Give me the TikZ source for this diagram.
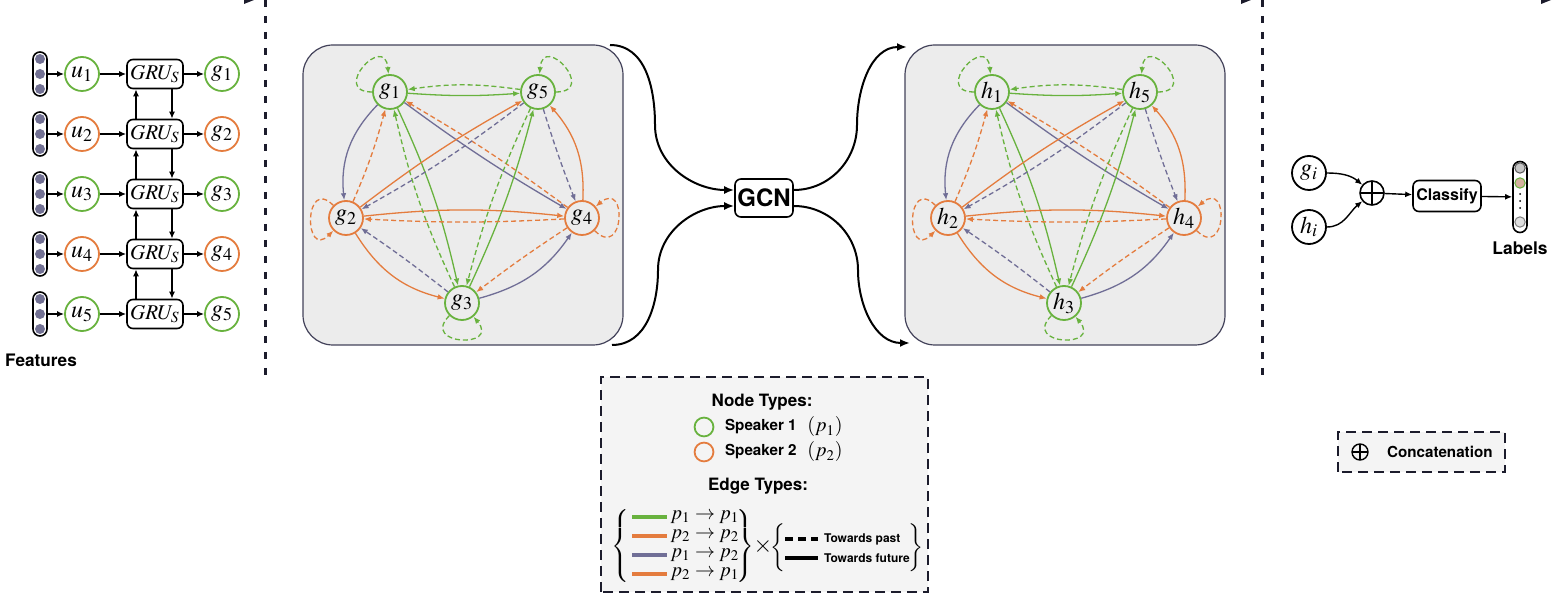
\documentclass[tikz,border=0pt]{standalone}
\usepackage{mathptmx}
\usepackage{fontspec}
\setsansfont{TeX Gyre Heros}
\usetikzlibrary{arrows.meta}
\definecolor{spka}{RGB}{104,178,62}
\definecolor{spkb}{RGB}{228,124,62}
\definecolor{spkx}{RGB}{112,110,150}
\definecolor{panelbg}{RGB}{236,236,236}
\definecolor{legendbg}{RGB}{244,244,244}
\definecolor{sepcol}{RGB}{28,28,44}
\colorlet{featdot}{spkx!85!gray}
\newcommand{\bsf}[1]{\fontsize{#1}{#1}\sffamily\bfseries}
\tikzset{
  spk/.style={circle,draw,line width=0.9pt,minimum size=17pt,inner sep=0pt,
    fill=white,font=\fontsize{12}{14}\selectfont},
  grubox/.style={rounded corners=3pt,draw,line width=0.8pt,fill=white,
    minimum width=28pt,minimum height=14.5pt,inner sep=0pt,
    font=\fontsize{10.5}{12}\selectfont},
  feat/.style={rounded corners=3.5pt,draw,line width=0.8pt,
    minimum width=7pt,minimum height=22pt,inner sep=0pt},
  arr/.style={-{Latex[length=3.5pt,width=3pt]},line width=0.7pt},
  flow/.style={-{Latex[length=5pt,width=4pt]},line width=1pt},
  panel/.style={draw=spkx!60!black,fill=panelbg,line width=0.6pt,rounded corners=15pt},
  gedge/.style={line width=0.65pt,-{Latex[length=3.5pt,width=2.8pt]}},
  future/.style={solid},
  towardpast/.style={dash pattern=on 2.5pt off 1.5pt},
  sepline/.style={sepcol,line width=1.5pt,dash pattern=on 3.5pt off 4.5pt},
  legendbox/.style={draw=sepcol,fill=legendbg,line width=1pt,dash pattern=on 5pt off 3pt},
  brace/.style={inner sep=0pt,font=\fontsize{10}{12}\selectfont},
  oplus/.style={circle,draw,line width=0.8pt,minimum size=12pt,inner sep=0pt,
    path picture={\draw[line width=0.8pt]
      (path picture bounding box.north) -- (path picture bounding box.south)
      (path picture bounding box.west) -- (path picture bounding box.east);}}
}
% one conversation graph: #1 node prefix, #2 letter, #3 shift
\newcommand{\convgraph}[3]{%
  \begin{scope}[shift={(#3,0)}]
    \draw[panel] (303,260) rectangle (623,560);
    \foreach \n/\x/\y/\c in {1/390/513/spka,2/346/387/spkb,3/462/302/spka,
                             4/582/387/spkb,5/538/513/spka}
      \node[spk,draw=\c,fill=panelbg] (#1\n) at (\x,\y) {$#2_{\n}$};
    % towards future
    \foreach \a/\b/\c/\bnd in {1/2/spkx/25,2/3/spkb/22,3/4/spkx/20,4/5/spkb/22,
        1/5/spka/4,1/3/spka/-6,1/4/spkx/3,2/4/spkb/-6,2/5/spkb/-4,3/5/spka/5}
      \draw[gedge,\c,future] (#1\a) to[bend right=\bnd] (#1\b);
    % towards past
    \foreach \a/\b/\c/\bnd in {2/1/spkb/4,3/2/spkx/2,4/3/spkb/2,5/4/spkx/2,
        5/1/spka/8,3/1/spka/-6,4/1/spkb/3,4/2/spkb/-3,5/2/spkx/-4,5/3/spka/5}
      \draw[gedge,\c,towardpast] (#1\a) to[bend right=\bnd] (#1\b);
    % self loops
    \foreach \n/\c/\o/\e in {1/spka/180/95,5/spka/0/85,2/spkb/135/225,
                             4/spkb/-45/40,3/spka/225/310}
      \draw[gedge,\c,towardpast] (#1\n) to[out=\o,in=\e,distance=21pt] (#1\n);
  \end{scope}}

\begin{document}
\begin{tikzpicture}[x=0.5pt,y=0.5pt]
  \useasboundingbox (0,0) rectangle (1552,605);

  % sequential context encoder
  \foreach \i/\c in {1/spka,2/spkb,3/spka,4/spkb,5/spka}{
    \pgfmathsetmacro\y{591-60*\i}
    \node[feat] (feat\i) at (40,\y) {};
    \foreach \d in {-15,0,15}
      \fill[featdot] (40,{\y+\d}) circle (2.5pt);
    \node[spk,draw=\c] (u\i) at (82,\y) {$u_\i$};
    \node[grubox] (gru\i) at (155,\y) {$GRU_S$};
    \node[spk,draw=\c] (g\i) at (222,\y) {$g_\i$};
    \draw[arr] (feat\i) -- (u\i);
    \draw[arr] (u\i) -- (gru\i);
    \draw[arr] (gru\i) -- (g\i);
  }
  \foreach \i/\j in {1/2,2/3,3/4,4/5}{
    \draw[arr] ([xshift=-9.5pt]gru\j.north) -- ([xshift=-9.5pt]gru\i.south);
    \draw[arr] ([xshift=8.5pt]gru\i.south) -- ([xshift=8.5pt]gru\j.north);
  }
  \node[font=\bsf{8.6}] (featlbl) at (41,245) {Features};

  % separators
  \draw[sepline] (265,605) -- (265,222);
  \draw[sepline] (1262,605) -- (1262,222);
  \fill[sepcol] (244,605) -- (254,605) -- (244,601) -- cycle;
  \fill[sepcol] (1241,605) -- (1251,605) -- (1241,601) -- cycle;
  \fill[sepcol] (1541,605) -- (1551,605) -- (1541,601) -- cycle;

  % graphs
  \convgraph{G}{g}{0}
  \convgraph{H}{h}{602}

  % GCN
  \node[draw,rounded corners=3pt,line width=0.8pt,fill=white,minimum width=29pt,
    minimum height=19pt,inner sep=1pt,font=\bsf{12}] (gcn) at (764,407) {GCN};
  \coordinate (gout) at (610,560);
  \coordinate (goutb) at (612,260);
  \coordinate (hin) at (907,558);
  \coordinate (hinb) at (910,262);
  \draw[flow] (gout) to[out=0,in=90] (655,480) to[out=-90,in=180] ([yshift=4pt]gcn.west);
  \draw[flow] (goutb) to[out=0,in=-90] (658,335) to[out=90,in=180] ([yshift=-4pt]gcn.west);
  \draw[flow] ([yshift=4pt]gcn.east) to[out=0,in=-90] (857,480) to[out=90,in=180] (hin);
  \draw[flow] ([yshift=-4pt]gcn.east) to[out=0,in=90] (858,335) to[out=-90,in=180] (hinb);

  % classifier
  \node[spk,draw=black] (gi) at (1309,432) {$g_i$};
  \node[spk,draw=black] (hi) at (1309,378) {$h_i$};
  \node[oplus] (cat) at (1372,412) {};
  \node[draw,rounded corners=3pt,line width=0.8pt,minimum width=34pt,
    minimum height=15.5pt,inner sep=1pt,font=\bsf{8}] (cls) at (1447,409) {Classify};
  \node[feat,minimum height=35.5pt] (labels) at (1520,408) {};
  \draw[gray!70!black,fill=gray!45,line width=0.5pt] (1520,437) circle (2.6pt);
  \draw[spka,fill=spkb!55!gray!60,line width=0.5pt] (1520,422) circle (2.6pt);
  \foreach \d in {411,404,397} \fill (1520,\d) circle (0.5pt);
  \draw[gray,fill=gray!25,line width=0.5pt] (1520,383) circle (2.6pt);
  \node[font=\bsf{8.7}] (lbllabels) at (1520,357) {Labels};
  \draw[arr] (gi) to[out=0,in=140] (cat);
  \draw[arr] (hi) to[out=0,in=-140] (cat);
  \draw[arr] (cat) -- (cls);
  \draw[arr] (cls) -- (labels);

  % legends
  \draw[legendbox] (1338,133) rectangle (1505,173);
  \node[oplus,minimum size=8pt,line width=0.7pt] (catkey) at (1360,153) {};
  \node[anchor=west,font=\bsf{7.6}] (catlbl) at (1380,153) {Concatenation};

  \draw[legendbox] (601,13) rectangle (928,228);
  \node[font=\bsf{8.5}] (nodetypes) at (762,203) {Node Types:};
  \node[circle,draw=spka,line width=0.9pt,minimum size=9pt] (keya) at (704,178) {};
  \node[circle,draw=spkb,line width=0.9pt,minimum size=9pt] (keyb) at (704,153) {};
  \node[anchor=west,font=\bsf{7.6}] (spkone) at (718,178) {Speaker 1};
  \node[anchor=west,font=\bsf{7.6}] (spktwo) at (718,153) {Speaker 2};
  \node[font=\fontsize{10}{12}\selectfont] (pone) at (825,178) {$(p_1)$};
  \node[font=\fontsize{10}{12}\selectfont] (ptwo) at (825,153) {$(p_2)$};
  \node[font=\bsf{8.5}] (edgetypes) at (758,119) {Edge Types:};
  \foreach \c/\y/\s/\t in {spka/88/1/1,spkb/69/2/2,spkx/50/1/2,spkb/31/2/1}{
    \draw[\c,line width=2pt] (632,\y) -- (667,\y);
    \node[font=\fontsize{10}{12}\selectfont] (key\y) at (705,\y) {$p_\s \to p_\t$};
  }
  \node[brace] (bra) at (622,59) {$\left\{\vcenter{\hbox{\rule{0pt}{34pt}}}\right.$};
  \node[brace] (ket) at (744,59) {$\left.\vcenter{\hbox{\rule{0pt}{34pt}}}\right\}$};
  \node[font=\fontsize{12}{12}\selectfont] (times) at (763,59) {$\times$};
  \node[brace] (brb) at (779,57) {$\left\{\vcenter{\hbox{\rule{0pt}{20pt}}}\right.$};
  \node[brace] (ketb) at (915,57) {$\left.\vcenter{\hbox{\rule{0pt}{20pt}}}\right\}$};
  \draw[line width=2pt,dash pattern=on 4pt off 2.5pt] (785,66) -- (818,66);
  \draw[line width=2pt] (785,47) -- (818,47);
  \node[anchor=west,font=\bsf{6}] (past) at (817,66) {Towards past};
  \node[anchor=west,font=\bsf{6}] (fut) at (817,47) {Towards future};
\end{tikzpicture}
\end{document}
